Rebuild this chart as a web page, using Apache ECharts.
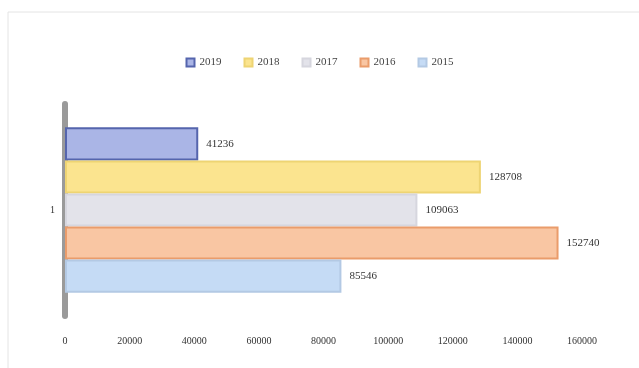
<!DOCTYPE html>
<html>
<head>
<meta charset="utf-8">
<style>
  html, body { margin: 0; padding: 0; background: #ffffff; }
  #chart { width: 639px; height: 368px; }
</style>
<script src="https://cdn.jsdelivr.net/npm/echarts@6/dist/echarts.min.js"></script>
</head>
<body>
<div id="chart"></div>
<script>
// Yearly totals, one horizontal bar per year within a single category
const categories = ['1'];
const years = ['2019', '2018', '2017', '2016', '2015'];
const values2019 = [41236];
const values2018 = [128708];
const values2017 = [109063];
const values2016 = [152740];
const values2015 = [85546];
const xTicks = [0, 20000, 40000, 60000, 80000, 100000, 120000, 140000, 160000];

const seriesValues = [values2019, values2018, values2017, values2016, values2015];
const fills = ['#aab5e6', '#fbe48f', '#e3e3ea', '#f9c6a3', '#c5dbf5'];
const edges = ['#5565ad', '#eed473', '#d6d6de', '#ea9c6b', '#b3c9e4'];

const chart = echarts.init(document.getElementById('chart'));

const series = years.map((y, i) => ({
  name: y,
  type: 'bar',
  data: seriesValues[i],
  barGap: '0%',
  barCategoryGap: '22%',
  itemStyle: { color: fills[i], borderColor: edges[i], borderWidth: 2 },
  label: {
    show: true,
    position: 'right',
    distance: 8,
    color: '#333',
    fontFamily: 'Liberation Serif',
    fontSize: 11
  }
}));

chart.setOption({
  backgroundColor: '#ffffff',
  animation: false,
  graphic: [{
    type: 'rect',
    shape: { x: 8, y: 12, width: 640, height: 360 },
    style: { fill: 'none', stroke: '#e4e4e4', lineWidth: 1 }
  }],
  legend: {
    top: 52,
    left: 'center',
    itemWidth: 8,
    itemHeight: 8,
    itemGap: 22,
    itemSymbolGap: 3,
    icon: 'rect',
    textStyle: { fontFamily: 'Liberation Serif', fontSize: 11, color: '#444' },
    data: years
  },
  grid: { left: 65, right: 57, top: 104, bottom: 52 },
  xAxis: {
    type: 'value',
    min: 0,
    max: 160000,
    interval: 20000,
    axisLine: { show: false },
    axisTick: { show: false },
    splitLine: { show: false },
    axisLabel: {
      color: '#333',
      fontFamily: 'Liberation Serif',
      fontSize: 10,
      margin: 20,
      formatter: v => xTicks.includes(v) ? String(v) : ''
    }
  },
  yAxis: {
    type: 'category',
    inverse: true,
    data: categories,
    axisLine: { show: true, lineStyle: { color: '#9a9a9a', width: 6 } },
    axisTick: { show: false },
    axisLabel: { color: '#333', fontFamily: 'Liberation Serif', fontSize: 10, margin: 10 }
  },
  series
});
</script>
</body>
</html>
